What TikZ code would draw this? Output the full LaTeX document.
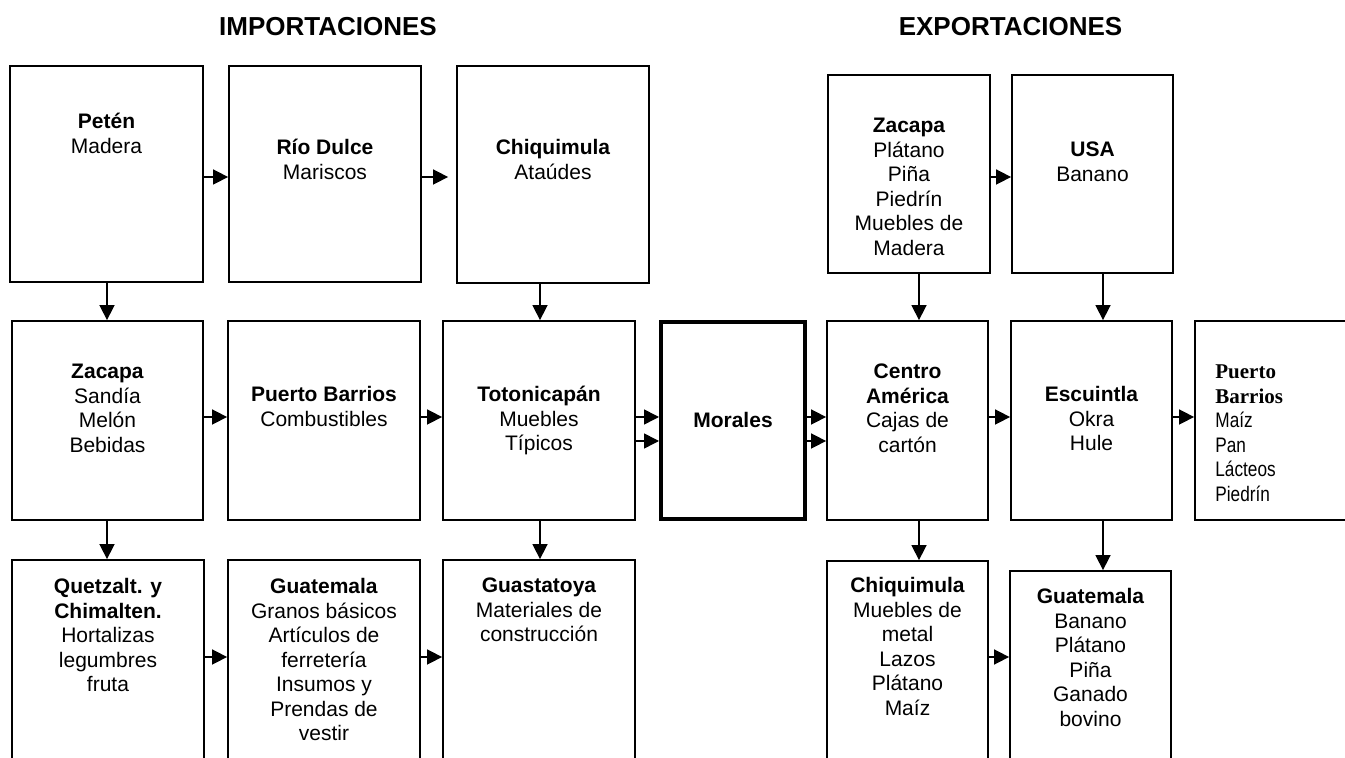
\documentclass[tikz,border=0pt]{standalone}
\usepackage{fontspec}
\setmainfont{Liberation Sans}
\newfontfamily\serifbold{Liberation Serif}
\newfontfamily\narrowsans[FakeStretch=0.82]{Liberation Sans}
\usetikzlibrary{arrows.meta}

\begin{document}
\begin{tikzpicture}[x=0.5pt, y=-0.5pt,
    caja/.style={draw, line width=0.9pt, inner sep=0pt},
    gruesa/.style={draw, line width=2pt, inner sep=0pt},
    texto/.style={anchor=north, align=center, inner sep=0pt, font=\fontsize{10.5}{12.25}\selectfont},
    titulo/.style={inner sep=0pt, font=\fontsize{13}{15}\selectfont\bfseries},
    flecha/.style={line width=0.8pt, -{Triangle[length=7.5pt, width=7.5pt]}}]
    \useasboundingbox (0,0) rectangle (1345,758);
    \fill[white] (0,0) rectangle (1345,758);

    % titulos
    \node[titulo] (imp) at (328,27) {IMPORTACIONES};
    \node[titulo] (exp) at (1010.5,27) {EXPORTACIONES};

    % importaciones
    \node[caja, minimum width=96.5pt, minimum height=108pt] (peten) at (106.5,174) {};
    \node[caja, minimum width=96pt, minimum height=108pt] (rio) at (325,174) {};
    \node[caja, minimum width=96pt, minimum height=108.5pt] (chiqi) at (553,174.5) {};
    \node[caja, minimum width=95.5pt, minimum height=99.5pt] (zacapai) at (107.5,420.5) {};
    \node[caja, minimum width=96pt, minimum height=99.5pt] (pbi) at (324,420.5) {};
    \node[caja, minimum width=96pt, minimum height=99.5pt] (toto) at (539,420.5) {};
    \node[caja, minimum width=96pt, minimum height=130pt] (quetz) at (108,690) {};
    \node[caja, minimum width=96pt, minimum height=130pt] (guati) at (324,690) {};
    \node[caja, minimum width=96pt, minimum height=130pt] (guast) at (539,690) {};

    % centro
    \node[gruesa, minimum width=72pt, minimum height=98.5pt] (morales) at (733,420.5) {};

    % exportaciones
    \node[caja, minimum width=81pt, minimum height=99pt] (zacapae) at (909,174) {};
    \node[caja, minimum width=80.5pt, minimum height=99pt] (usa) at (1092.5,174) {};
    \node[caja, minimum width=80.5pt, minimum height=99.5pt] (centro) at (907.5,420.5) {};
    \node[caja, minimum width=80.5pt, minimum height=99.5pt] (escu) at (1091.5,420.5) {};
    \node[caja, minimum width=80.5pt, minimum height=99.5pt] (pbe) at (1275.5,420.5) {};
    \node[caja, minimum width=80.5pt, minimum height=130pt] (chiqe) at (907.5,691) {};
    \node[caja, minimum width=80.5pt, minimum height=130pt] (guate) at (1090.5,701) {};

    % textos
    \node[texto] (petent) at (106.5,111) {\textbf{Petén}\strut\\Madera};
    \node[texto] (riot) at (325,137) {\textbf{Río Dulce}\strut\\Mariscos};
    \node[texto] (chiqit) at (553,137) {\textbf{Chiquimula}\strut\\Ataúdes};
    \node[texto] (zacapait) at (107.5,361) {\textbf{Zacapa}\strut\\Sandía\\Melón\\Bebidas};
    \node[texto] (pbit) at (324,384) {\textbf{Puerto Barrios}\strut\\Combustibles};
    \node[texto] (totot) at (539,384) {\textbf{Totonicapán}\strut\\Muebles\\Típicos};
    \node[texto] (quetzt) at (108,576) {\textbf{Quetzalt. y}\strut\\\textbf{Chimalten.}\\Hortalizas\\legumbres\\fruta};
    \node[texto] (guatit) at (324,576) {\textbf{Guatemala}\strut\\Granos básicos\\Artículos de\\ferretería\\Insumos y\\Prendas de\\vestir};
    \node[texto] (guastt) at (539,575) {\textbf{Guastatoya}\strut\\Materiales de\\construcción};
    \node[texto] (moralest) at (733,410) {\textbf{Morales}\strut};
    \node[texto] (zacapaet) at (909,115) {\textbf{Zacapa}\strut\\Plátano\\Piña\\Piedrín\\Muebles de\\Madera};
    \node[texto] (usat) at (1092.5,139) {\textbf{USA}\strut\\Banano};
    \node[texto] (centrot) at (907.5,361) {\textbf{Centro}\strut\\\textbf{América}\\Cajas de\\cartón};
    \node[texto] (escut) at (1091.5,384) {\textbf{Escuintla}\strut\\Okra\\Hule};
    \node[texto, anchor=north west, align=left] (pbet) at (1215,361) {{\serifbold\bfseries Puerto}\strut\\{\serifbold\bfseries Barrios}\\{\narrowsans Maíz}\\{\narrowsans Pan}\\{\narrowsans Lácteos}\\{\narrowsans Piedrín}};
    \node[texto] (chiqet) at (907.5,575) {\textbf{Chiquimula}\strut\\Muebles de\\metal\\Lazos\\Plátano\\Maíz};
    \node[texto] (guatet) at (1090.5,586) {\textbf{Guatemala}\strut\\Banano\\Plátano\\Piña\\Ganado\\bovino};

    % alturas y columnas de las flechas
    \coordinate (f1) at (0,177);
    \coordinate (f2) at (0,417);
    \coordinate (f2b) at (0,441);
    \coordinate (f3) at (0,657);
    \coordinate (c1) at (107,0);
    \coordinate (c2) at (540,0);
    \coordinate (c3) at (919,0);
    \coordinate (c4) at (1103,0);

    % flechas
    \draw[flecha] (peten.east |- f1) -- (rio.west |- f1);
    \draw[flecha, shorten >=4pt] (rio.east |- f1) -- (chiqi.west |- f1);
    \draw[flecha] (peten.south -| c1) -- (zacapai.north -| c1);
    \draw[flecha] (chiqi.south -| c2) -- (toto.north -| c2);
    \draw[flecha] (zacapai.east |- f2) -- (pbi.west |- f2);
    \draw[flecha] (pbi.east |- f2) -- (toto.west |- f2);
    \draw[flecha] (toto.east |- f2) -- (morales.west |- f2);
    \draw[flecha] (toto.east |- f2b) -- (morales.west |- f2b);
    \draw[flecha] (zacapai.south -| c1) -- (quetz.north -| c1);
    \draw[flecha] (toto.south -| c2) -- (guast.north -| c2);
    \draw[flecha] (quetz.east |- f3) -- (guati.west |- f3);
    \draw[flecha] (guati.east |- f3) -- (guast.west |- f3);
    \draw[flecha] (morales.east |- f2) -- (centro.west |- f2);
    \draw[flecha] (morales.east |- f2b) -- (centro.west |- f2b);
    \draw[flecha] (zacapae.east |- f1) -- (usa.west |- f1);
    \draw[flecha] (zacapae.south -| c3) -- (centro.north -| c3);
    \draw[flecha] (usa.south -| c4) -- (escu.north -| c4);
    \draw[flecha] (centro.east |- f2) -- (escu.west |- f2);
    \draw[flecha] (escu.east |- f2) -- (pbe.west |- f2);
    \draw[flecha] (centro.south -| c3) -- (chiqe.north -| c3);
    \draw[flecha] (escu.south -| c4) -- (guate.north -| c4);
    \draw[flecha] (chiqe.east |- f3) -- (guate.west |- f3);
\end{tikzpicture}
\end{document}
